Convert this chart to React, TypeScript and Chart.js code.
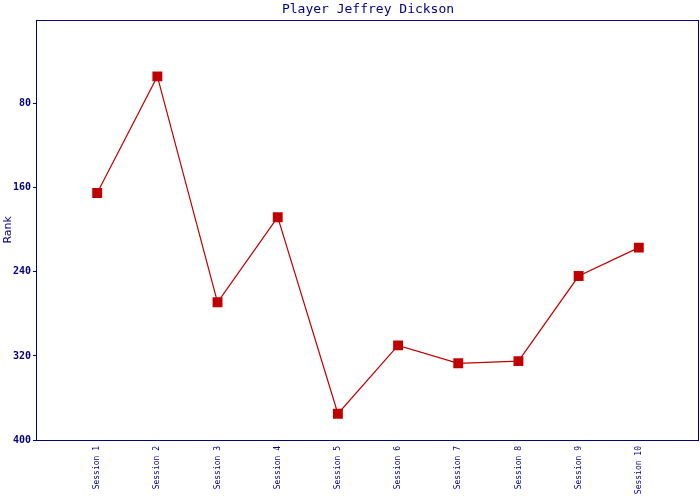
import React, { useEffect, useRef } from "react";
import { Chart, registerables } from "chart.js";

Chart.register(...registerables);

const sessions = ["Session 1", "Session 2", "Session 3", "Session 4", "Session 5", "Session 6", "Session 7", "Session 8", "Session 9", "Session 10"];
const ranks = [165, 54, 269, 188, 375, 310, 327, 325, 244, 217];
const titleText = "Player Jeffrey Dickson";
const yTitle = "Rank";

const NAVY = "#000080";
const RED = "#c00000";
const MONO = "'DejaVu Sans Mono', 'Liberation Mono', monospace";

export default function App() {
  const ref = useRef<HTMLCanvasElement | null>(null);
  useEffect(() => {
    if (!ref.current) return;
    const labels = ["", ...sessions, ""];
    const data = [null, ...ranks, null];
    const frame = {
      id: "frame",
      afterDraw(chart: any) {
        const { ctx, chartArea: a } = chart;
        ctx.save();
        ctx.strokeStyle = NAVY;
        ctx.lineWidth = 1;
        ctx.strokeRect(Math.round(a.left) - 0.5, Math.round(a.top) + 0.5, Math.round(a.right - a.left), Math.round(a.bottom - a.top));
        ctx.restore();
      },
    };
    const chart = new Chart(ref.current, {
      type: "line",
      data: {
        labels,
        datasets: [
          {
            data,
            borderColor: RED,
            backgroundColor: RED,
            borderWidth: 1.2,
            pointStyle: "rect",
            pointRadius: 7,
            pointHoverRadius: 7,
            pointBorderWidth: 0,
            tension: 0,
            spanGaps: false,
          },
        ],
      },
      options: {
        animation: false,
        responsive: false,
        maintainAspectRatio: false,
        layout: { autoPadding: false, padding: { left: 0, right: 1, top: 0, bottom: 0 } },
        plugins: {
          legend: { display: false },
          tooltip: { enabled: false },
          title: {
            display: true,
            fullSize: false,
            text: titleText,
            color: NAVY,
            font: { family: MONO, size: 13, weight: "normal" },
            padding: { top: 2, bottom: 2 },
          },
        },
        scales: {
          x: {
            type: "category",
            offset: false,
            grid: { display: false, drawTicks: false },
            border: { display: false },
            ticks: {
              autoSkip: false,
              minRotation: 90,
              maxRotation: 90,
              padding: 6,
              color: NAVY,
              font: { family: MONO, size: 8 },
            },
            afterFit(scale: any) {
              scale.height = 60;
              scale.paddingLeft = 0;
              scale.paddingRight = 0;
            },
          },
          y: {
            reverse: true,
            min: 0,
            max: 400,
            grid: { drawOnChartArea: false, drawTicks: true, tickLength: 4, color: NAVY },
            border: { display: false },
            ticks: {
              stepSize: 80,
              padding: 2,
              color: NAVY,
              font: { family: MONO, size: 10, weight: "bold" },
            },
            afterBuildTicks(scale: any) {
              scale.ticks = scale.ticks.filter((t: any) => t.value !== 0);
            },
            title: {
              display: true,
              text: yTitle,
              color: NAVY,
              font: { family: "'DejaVu Sans', sans-serif", size: 11 },
              padding: { top: 2, bottom: 0 },
            },
            afterFit(scale: any) {
              scale.width = 37;
              scale.paddingTop = 0;
              scale.paddingBottom = 0;
            },
          },
        },
      },
      plugins: [frame],
    });
    return () => chart.destroy();
  }, []);
  return (
    <div style={{ position: "fixed", left: 0, top: 0, width: 700, height: 500, background: "#fff" }}>
      <canvas ref={ref} width={700} height={500} style={{ width: 700, height: 500 }} />
    </div>
  );
}
